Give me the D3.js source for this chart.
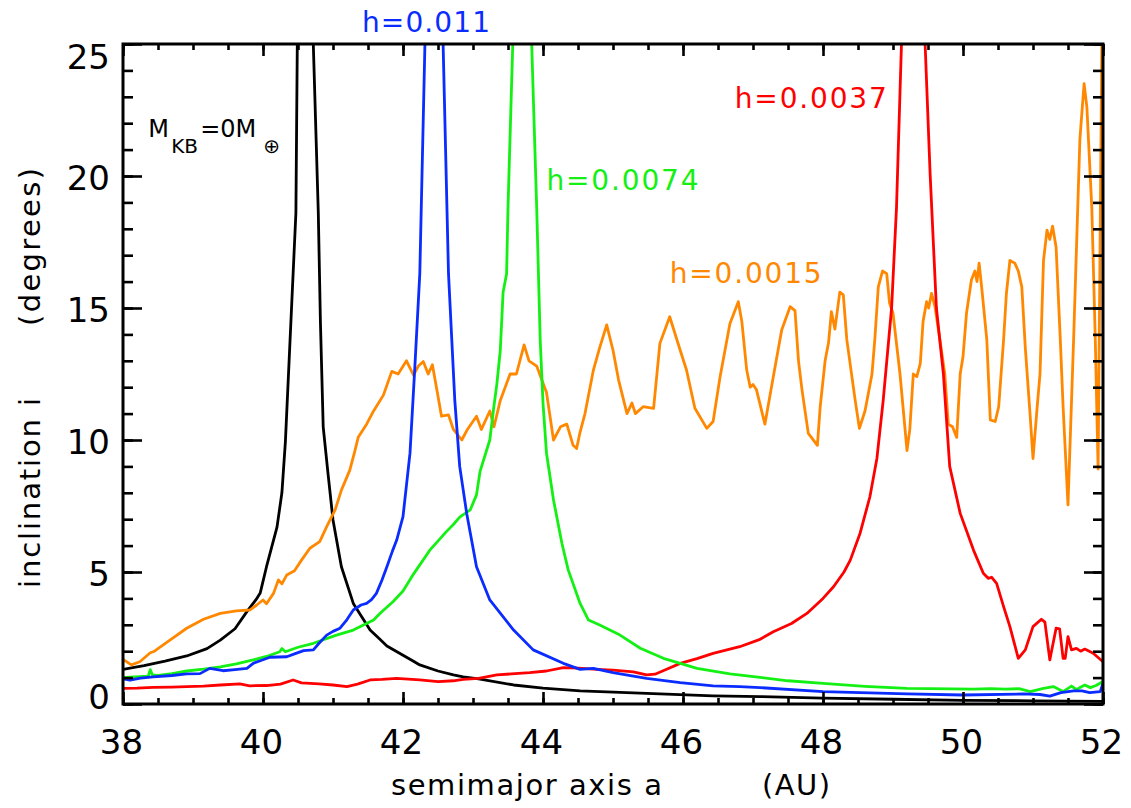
<!DOCTYPE html>
<html>
<head>
<meta charset="utf-8">
<script src="https://cdn.jsdelivr.net/npm/d3@7"></script>
<style>
  body { margin: 0; background: #fff; }
  svg { display: block; }
  text { font-family: "DejaVu Sans", sans-serif; }
</style>
</head>
<body>
<svg id="chart" width="1131" height="808"></svg>
<script>
// Inclination profiles i(a) for different disc aspect ratios h.
// Each series: [semimajor axis a (AU), inclination i (degrees)].
const seriesNoDisc = [
  [38.00,1.31],[38.30,1.45],[38.60,1.62],[38.91,1.82],[39.20,2.10],[39.39,2.42],[39.60,2.85],
  [39.77,3.50],[39.90,3.95],[39.96,4.20],[40.05,5.20],[40.20,6.70],[40.27,8.00],[40.32,9.94],
  [40.47,18.6],[40.54,41.0],[40.79,18.6],[40.82,14.5],[40.86,10.5],[40.93,8.70],[41.00,6.97],
  [41.12,5.20],[41.29,3.81],[41.53,2.80],[41.67,2.45],[41.77,2.20],[42.15,1.62],[42.24,1.48],
  [42.50,1.25],[42.72,1.10],[42.86,1.03],[43.08,0.95],[43.58,0.72],[44.00,0.60],[44.53,0.50],
  [45.48,0.40],[46.43,0.31],[47.10,0.28],[48.00,0.22],[49.00,0.18],[50.00,0.14],[51.00,0.12],
  [52.00,0.10]
];

const seriesH0015 = [
  [38.00,1.69],[38.12,1.48],[38.24,1.60],[38.39,1.94],[38.45,2.00],[38.67,2.42],[38.91,2.87],
  [39.15,3.21],[39.39,3.43],[39.62,3.53],[39.81,3.56],[39.91,3.75],[40.00,3.94],[40.05,3.80],
  [40.15,4.19],[40.22,4.70],[40.27,4.55],[40.34,4.89],[40.45,5.05],[40.55,5.45],[40.67,5.90],
  [40.81,6.15],[40.91,6.72],[41.03,7.35],[41.12,8.10],[41.24,8.86],[41.31,9.56],[41.36,10.10],
  [41.48,10.60],[41.58,11.10],[41.72,11.70],[41.84,12.60],[41.93,12.50],[42.05,13.00],
  [42.15,12.46],[42.22,12.80],[42.29,12.97],[42.36,12.50],[42.42,12.85],[42.48,11.96],
  [42.55,10.90],[42.65,10.95],[42.72,10.40],[42.84,10.00],[42.92,10.40],[43.05,10.90],
  [43.12,10.40],[43.24,11.10],[43.30,10.50],[43.39,11.50],[43.53,12.50],[43.62,12.50],
  [43.73,13.60],[43.80,13.00],[43.91,12.80],[44.05,11.80],[44.15,10.00],[44.25,10.50],
  [44.34,10.60],[44.43,9.80],[44.48,9.68],[44.53,10.30],[44.60,11.00],[44.72,12.65],
  [44.81,13.50],[44.91,14.36],[45.00,13.40],[45.08,12.27],[45.20,11.00],[45.27,11.40],
  [45.32,11.00],[45.43,11.26],[45.58,11.20],[45.67,13.66],[45.81,14.67],[45.96,13.40],
  [46.05,12.65],[46.17,11.20],[46.34,10.44],[46.43,10.70],[46.53,12.40],[46.67,14.40],
  [46.79,15.24],[46.84,14.50],[46.91,12.65],[46.96,12.00],[47.00,12.10],[47.05,11.90],
  [47.17,10.60],[47.29,12.40],[47.41,14.17],[47.53,15.05],[47.60,14.90],[47.65,13.00],
  [47.70,11.90],[47.79,10.25],[47.92,9.80],[47.96,11.26],[48.03,13.00],[48.08,13.70],
  [48.12,14.86],[48.17,14.20],[48.24,15.60],[48.29,15.50],[48.34,13.80],[48.46,11.50],
  [48.52,10.44],[48.60,11.10],[48.70,12.50],[48.74,13.80],[48.79,15.80],[48.85,16.40],
  [48.91,16.30],[48.95,15.20],[49.00,14.80],[49.10,12.50],[49.20,9.60],[49.24,10.40],
  [49.29,12.50],[49.34,12.40],[49.39,12.90],[49.43,14.50],[49.48,15.24],[49.51,15.00],
  [49.55,15.55],[49.60,15.05],[49.67,13.80],[49.74,12.50],[49.79,10.60],[49.85,10.50],
  [49.91,10.10],[49.96,12.50],[50.00,13.15],[50.05,14.80],[50.12,16.06],[50.17,16.40],
  [50.20,16.00],[50.23,16.70],[50.27,15.70],[50.34,13.80],[50.39,10.76],[50.46,10.70],
  [50.51,11.26],[50.58,13.80],[50.62,15.55],[50.67,16.80],[50.74,16.70],[50.79,16.40],
  [50.84,15.80],[50.89,13.50],[50.96,10.90],[51.00,9.30],[51.06,11.26],[51.10,12.50],
  [51.15,16.80],[51.20,17.95],[51.24,17.60],[51.28,18.10],[51.33,17.30],[51.39,13.80],
  [51.43,11.26],[51.50,7.54],[51.58,13.80],[51.67,21.40],[51.73,23.50],[51.77,22.60],
  [51.84,18.80],[51.89,13.80],[51.93,8.90],[52.00,30.00]
];

const seriesH0037 = [
  [38.00,0.59],[38.20,0.60],[38.43,0.63],[38.70,0.64],[38.91,0.66],[39.15,0.68],[39.39,0.72],
  [39.67,0.76],[39.81,0.69],[40.05,0.70],[40.25,0.75],[40.43,0.91],[40.55,0.80],[40.80,0.76],
  [41.00,0.72],[41.20,0.66],[41.35,0.75],[41.53,0.91],[41.70,0.93],[41.91,0.97],[42.24,0.91],
  [42.50,0.85],[42.72,0.88],[42.86,0.93],[43.08,0.97],[43.34,1.10],[43.60,1.15],[43.81,1.19],
  [44.05,1.25],[44.29,1.38],[44.50,1.36],[44.77,1.31],[45.00,1.28],[45.29,1.22],[45.40,1.15],
  [45.48,1.10],[45.60,1.13],[45.75,1.30],[45.96,1.54],[46.20,1.72],[46.43,1.92],[46.81,2.17],
  [47.10,2.45],[47.29,2.74],[47.55,3.05],[47.77,3.43],[48.00,4.00],[48.15,4.44],[48.30,5.00],
  [48.39,5.45],[48.53,6.47],[48.67,7.85],[48.77,9.30],[48.86,11.50],[48.98,15.00],[49.05,18.80],
  [49.27,38.0],[49.53,20.10],[49.62,15.00],[49.72,12.50],[49.81,9.00],[49.96,7.22],[50.15,5.83],
  [50.29,4.95],[50.36,4.76],[50.41,4.80],[50.48,4.57],[50.58,3.69],[50.67,2.93],[50.79,1.73],
  [50.89,2.05],[51.00,2.93],[51.12,3.21],[51.17,3.10],[51.24,1.67],[51.33,2.87],[51.38,2.85],
  [51.43,1.73],[51.46,1.73],[51.50,2.55],[51.55,2.05],[51.62,2.11],[51.68,2.00],[51.74,2.08],
  [51.86,1.92],[52.00,1.60]
];

const seriesH0074 = [
  [38.00,1.00],[38.10,1.02],[38.30,1.05],[38.36,1.05],[38.39,1.30],[38.42,1.10],[38.50,1.08],
  [38.70,1.15],[38.91,1.25],[39.15,1.32],[39.39,1.41],[39.62,1.52],[39.86,1.67],[40.05,1.80],
  [40.24,1.98],[40.27,2.10],[40.32,1.98],[40.50,2.15],[40.72,2.30],[41.05,2.61],[41.29,2.80],
  [41.58,3.18],[41.67,3.43],[41.86,3.88],[42.00,4.28],[42.15,4.92],[42.39,5.85],[42.62,6.53],
  [42.72,6.80],[42.81,7.08],[42.96,7.35],[43.05,7.92],[43.10,8.80],[43.24,10.00],[43.30,11.30],
  [43.34,12.10],[43.39,13.40],[43.43,15.60],[43.48,16.30],[43.50,18.80],[43.70,37.0],
  [43.91,18.80],[43.96,13.80],[44.00,11.40],[44.05,9.50],[44.15,7.73],[44.27,6.09],[44.36,5.08],
  [44.53,3.81],[44.65,3.18],[44.81,2.99],[45.10,2.61],[45.39,2.11],[45.72,1.73],[46.20,1.35],
  [46.67,1.14],[47.10,1.01],[47.50,0.88],[48.00,0.78],[48.60,0.67],[49.20,0.59],[50.15,0.56],
  [50.40,0.58],[50.60,0.56],[50.80,0.58],[50.96,0.47],[51.15,0.59],[51.29,0.66],[51.43,0.47],
  [51.55,0.68],[51.62,0.55],[51.74,0.72],[51.82,0.62],[51.90,0.70],[52.00,0.85]
];

const seriesH011 = [
  [38.00,0.95],[38.10,0.90],[38.25,0.98],[38.43,1.03],[38.70,1.08],[38.91,1.14],[39.10,1.15],
  [39.24,1.35],[39.43,1.26],[39.60,1.30],[39.77,1.35],[39.86,1.54],[39.96,1.64],[40.10,1.77],
  [40.34,1.79],[40.45,1.90],[40.58,2.02],[40.72,2.05],[40.80,2.30],[40.91,2.61],[41.00,2.75],
  [41.10,2.87],[41.20,3.20],[41.29,3.56],[41.40,3.75],[41.48,3.81],[41.55,3.95],[41.62,4.19],
  [41.70,4.70],[41.77,5.20],[41.85,5.80],[41.91,6.21],[42.00,7.10],[42.10,9.50],[42.17,12.80],
  [42.24,16.30],[42.44,40.0],[42.65,16.30],[42.74,11.50],[42.81,9.00],[42.91,7.22],[43.05,5.20],
  [43.24,3.94],[43.58,2.80],[43.86,2.05],[44.29,1.54],[44.53,1.31],[44.72,1.35],[45.00,1.19],
  [45.48,0.97],[45.96,0.81],[46.43,0.69],[46.81,0.66],[47.10,0.62],[48.00,0.47],[49.20,0.38],
  [50.00,0.34],[50.86,0.38],[51.10,0.36],[51.24,0.30],[51.40,0.43],[51.58,0.50],[51.70,0.50],
  [51.81,0.43],[51.96,0.47],[52.00,0.78]
];

// Axis ticks
const xMajorTicks = [38, 40, 42, 44, 46, 48, 50, 52];
const xMinorTicks = d3.range(38, 52.01, 0.5);
const yMajorTicks = [0, 5, 10, 15, 20, 25];
const yMinorTicks = d3.range(0, 25.01, 1);

// Series labels: text, colour, anchor point in data coordinates
const labelText  = ["h=0.011", "h=0.0074", "h=0.0037", "h=0.0015"];
const labelColor = ["#0a2cff", "#14f014", "#ff0000", "#ff8800"];
const labelAt    = [[41.414, 25.47], [44.05, 19.47], [46.74, 22.56], [45.81, 15.94]];
const labelWidth = [128, 152, 152, 152];

const svg = d3.select("#chart");
const plot = { left: 123, right: 1103, top: 44, bottom: 704 };

const x = d3.scaleLinear().domain([38, 52]).range([plot.left, plot.right]);
const y = d3.scaleLinear().domain([0, 25]).range([plot.bottom, plot.top]);

svg.append("defs").append("clipPath").attr("id", "plotClip")
  .append("rect")
  .attr("x", plot.left).attr("y", plot.top)
  .attr("width", plot.right - plot.left).attr("height", plot.bottom - plot.top);

// Curves
const line = d3.line().x(d => x(d[0])).y(d => y(d[1]));
const curves = [
  { data: seriesNoDisc, color: "#000000" },
  { data: seriesH0015,  color: "#ff8800" },
  { data: seriesH0037,  color: "#ff0000" },
  { data: seriesH0074,  color: "#14f014" },
  { data: seriesH011,   color: "#0a2cff" }
];
const gCurves = svg.append("g").attr("clip-path", "url(#plotClip)");
curves.forEach(c => {
  gCurves.append("path")
    .attr("d", line(c.data))
    .attr("fill", "none")
    .attr("stroke", c.color)
    .attr("stroke-width", 2.8)
    .attr("stroke-linejoin", "round");
});

// Axes: ticks point inward on all four sides
function styleAxis(g) {
  g.select(".domain").remove();
  g.selectAll(".tick line").attr("stroke", "#000").attr("stroke-width", 2.6);
  g.selectAll(".tick text").remove();
}
svg.append("g").attr("transform", `translate(0,${plot.bottom})`)
  .call(d3.axisBottom(x).tickValues(xMajorTicks).tickSize(-12)).call(styleAxis);
svg.append("g").attr("transform", `translate(0,${plot.bottom})`)
  .call(d3.axisBottom(x).tickValues(xMinorTicks).tickSize(-6)).call(styleAxis);
svg.append("g").attr("transform", `translate(0,${plot.top})`)
  .call(d3.axisTop(x).tickValues(xMajorTicks).tickSize(-12)).call(styleAxis);
svg.append("g").attr("transform", `translate(0,${plot.top})`)
  .call(d3.axisTop(x).tickValues(xMinorTicks).tickSize(-6)).call(styleAxis);
svg.append("g").attr("transform", `translate(${plot.left},0)`)
  .call(d3.axisLeft(y).tickValues(yMajorTicks).tickSize(-19)).call(styleAxis);
svg.append("g").attr("transform", `translate(${plot.left},0)`)
  .call(d3.axisLeft(y).tickValues(yMinorTicks).tickSize(-10)).call(styleAxis);
svg.append("g").attr("transform", `translate(${plot.right},0)`)
  .call(d3.axisRight(y).tickValues(yMajorTicks).tickSize(-19)).call(styleAxis);
svg.append("g").attr("transform", `translate(${plot.right},0)`)
  .call(d3.axisRight(y).tickValues(yMinorTicks).tickSize(-10)).call(styleAxis);

// Frame
svg.append("rect")
  .attr("x", plot.left).attr("y", plot.top)
  .attr("width", plot.right - plot.left).attr("height", plot.bottom - plot.top)
  .attr("fill", "none").attr("stroke", "#000").attr("stroke-width", 3);

// Tick labels
const tickFont = 34, capH = tickFont * 0.729;
svg.append("g").selectAll("text").data(xMajorTicks).join("text")
  .attr("x", d => x(d) - 1.5).attr("y", 754)
  .attr("text-anchor", "middle").attr("font-size", tickFont).attr("fill", "#000")
  .text(d => d);
svg.append("g").selectAll("text").data(yMajorTicks).join("text")
  .attr("x", plot.left - 13)
  .attr("y", d => {
    const c = Math.max(plot.top + capH / 2, Math.min(y(d) + 2, plot.bottom - capH / 2 + 5));
    return c + capH / 2;
  })
  .attr("text-anchor", "end").attr("font-size", tickFont).attr("fill", "#000")
  .text(d => d);

// Axis titles
svg.append("text").attr("x", 391).attr("y", 795)
  .attr("font-size", 29).attr("fill", "#000")
  .attr("textLength", 271).attr("lengthAdjust", "spacing")
  .text("semimajor axis a");
svg.append("text").attr("x", 762).attr("y", 795)
  .attr("font-size", 29).attr("fill", "#000")
  .attr("textLength", 68).attr("lengthAdjust", "spacing")
  .text("(AU)");
svg.append("text").attr("transform", "translate(40,588) rotate(-90)")
  .attr("font-size", 29).attr("fill", "#000")
  .attr("textLength", 190).attr("lengthAdjust", "spacing")
  .text("inclination i");
svg.append("text").attr("transform", "translate(40,326) rotate(-90)")
  .attr("font-size", 29).attr("fill", "#000")
  .attr("textLength", 158).attr("lengthAdjust", "spacing")
  .text("(degrees)");

// Series labels
svg.append("g").selectAll("text").data(labelText).join("text")
  .attr("x", (d, i) => x(labelAt[i][0]))
  .attr("y", (d, i) => y(labelAt[i][1]))
  .attr("font-size", 28)
  .attr("fill", (d, i) => labelColor[i])
  .attr("textLength", (d, i) => labelWidth[i])
  .attr("lengthAdjust", "spacing")
  .text(d => d);

// Mass annotation: M_KB = 0 M_earth
const mx = x(38.36), my = y(21.49);
const mk = svg.append("text").attr("x", mx).attr("y", my)
  .attr("font-size", 24).attr("fill", "#000");
mk.append("tspan").text("M");
mk.append("tspan").attr("x", mx + 23).attr("dy", 16)
  .attr("font-size", 20).text("KB");
mk.append("tspan").attr("x", mx + 52).attr("dy", -16).text("=0M");
mk.append("tspan").attr("x", mx + 115).attr("dy", 16)
  .attr("font-size", 20).text("\u2295");
</script>
</body>
</html>
